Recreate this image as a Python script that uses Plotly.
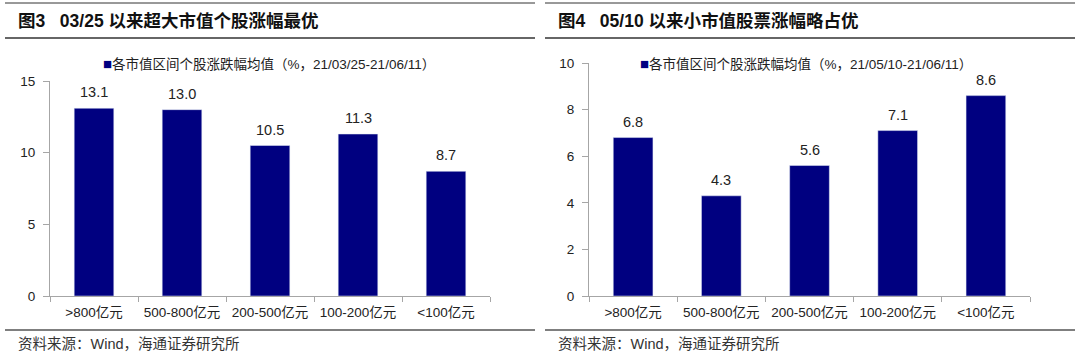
import plotly.graph_objects as go

categories = [">800亿元", "500-800亿元", "200-500亿元", "100-200亿元", "<100亿元"]
values_left = [13.1, 13.0, 10.5, 11.3, 8.7]
values_right = [6.8, 4.3, 5.6, 7.1, 8.6]
title_left = "图3   03/25 以来超大市值个股涨幅最优"
title_right = "图4   05/10 以来小市值股票涨幅略占优"
legend_left = "各市值区间个股涨跌幅均值（%，21/03/25-21/06/11）"
legend_right = "各市值区间个股涨跌幅均值（%，21/05/10-21/06/11）"
source_text = "资料来源：Wind，海通证券研究所"

W, H = 1080, 361
FONT = "Liberation Sans, Arial, Noto Sans CJK SC"
NAVY = "#000080"
AX = "#A6A6A6"

def py(y):
    return 1 - y / H

def px(x):
    return x / W

fig = go.Figure()
fig.add_trace(go.Bar(x=categories, y=values_left, marker_color=NAVY, width=0.45,
                     name=legend_left, showlegend=False, xaxis="x", yaxis="y", hoverinfo="skip"))
fig.add_trace(go.Bar(x=categories, y=values_right, marker_color=NAVY, width=0.45,
                     name=legend_right, showlegend=False, xaxis="x2", yaxis="y2", hoverinfo="skip"))

xcommon = dict(type="category", showline=True, linecolor=AX, linewidth=1, ticks="outside",
               tickson="boundaries", ticklen=5, tickcolor=AX, showgrid=False, automargin=False,
               ticklabelstandoff=4,
               tickfont=dict(size=13.5, color="#222", family=FONT), zeroline=False, fixedrange=True)
ycommon = dict(showline=True, linecolor=AX, linewidth=1, ticks="outside", ticklen=6, tickcolor=AX,
               showgrid=False, zeroline=False, automargin=False, ticklabelstandoff=5, fixedrange=True,
               tickfont=dict(size=13.5, color="#222", family=FONT))

fig.update_layout(
    width=W, height=H, margin=dict(l=0, r=0, t=0, b=0, autoexpand=False),
    paper_bgcolor="white", plot_bgcolor="white",
    font=dict(family=FONT, color="#222"),
    showlegend=False,
    xaxis=dict(domain=[px(50), px(490)], anchor="y", **xcommon),
    yaxis=dict(domain=[py(296), py(81)], anchor="x", range=[0, 15], dtick=5, **ycommon),
    xaxis2=dict(domain=[px(589), px(1030)], anchor="y2", **xcommon),
    yaxis2=dict(domain=[py(296), py(63)], anchor="x2", range=[0, 10], dtick=2, **ycommon),
)

shapes = []
for x0, x1 in [(5, 535), (545, 1075)]:
    shapes.append(dict(type="line", xref="paper", yref="paper", x0=px(x0), x1=px(x1), y0=py(3), y1=py(3),
                       line=dict(color="#333", width=1)))
    shapes.append(dict(type="line", xref="paper", yref="paper", x0=px(x0), x1=px(x1), y0=py(38), y1=py(38),
                       line=dict(color="#333", width=1.5)))
    shapes.append(dict(type="line", xref="paper", yref="paper", x0=px(x0), x1=px(x1), y0=py(330), y1=py(330),
                       line=dict(color="#555", width=1.5)))
fig.update_layout(shapes=shapes)

ann = []
for x0, t in [(16, title_left), (556, title_right)]:
    ann.append(dict(xref="paper", yref="paper", x=px(x0), y=py(21), xanchor="left", yanchor="middle",
                    text=f"<b>{t}</b>", showarrow=False,
                    font=dict(size=17.5, color="#111", family=FONT)))
    ann.append(dict(xref="paper", yref="paper", x=px(x0), y=py(344), xanchor="left", yanchor="middle",
                    text=source_text, showarrow=False,
                    font=dict(size=14.5, color="#333", family=FONT)))
for x0, t in [(101, legend_left), (638, legend_right)]:
    ann.append(dict(xref="paper", yref="paper", x=px(x0), y=py(63), xanchor="left", yanchor="middle",
                    text=f"<span style='color:{NAVY};font-size:15px'>■</span>{t}", showarrow=False,
                    font=dict(size=13.5, color="#222", family=FONT)))
# data labels above bars, placed through the data axes
for xr, yr, vals in [("x", "y", values_left), ("x2", "y2", values_right)]:
    for c, v in zip(categories, vals):
        ann.append(dict(xref=xr, yref=yr, x=c, y=v, yshift=16, xanchor="center", yanchor="middle",
                        text=f"{v:.1f}", showarrow=False,
                        font=dict(size=14.5, color="#222", family=FONT)))
fig.update_layout(annotations=ann)

fig.write_html("out.html", config={"displayModeBar": False, "staticPlot": True},
               post_script="document.body.style.margin='0';document.body.style.padding='0';")
